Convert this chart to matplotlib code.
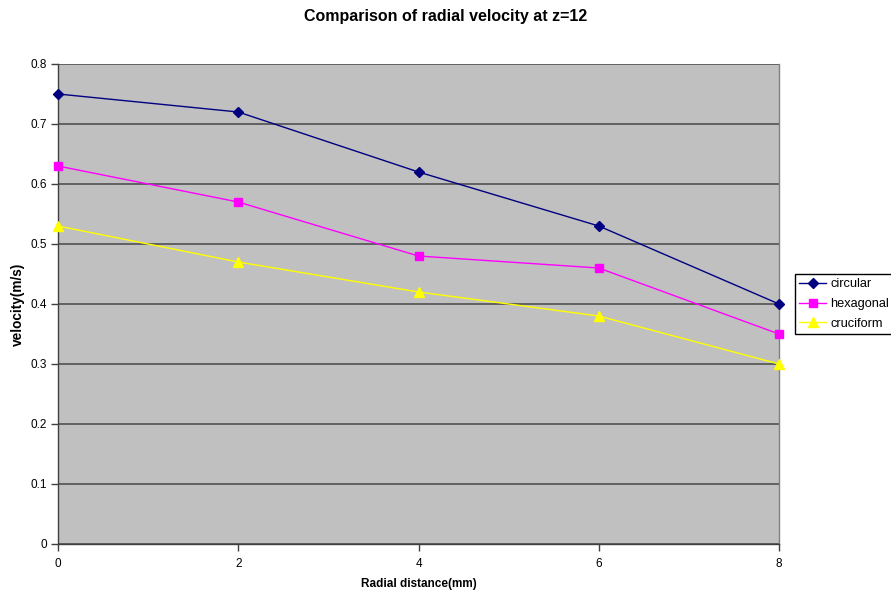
import matplotlib
matplotlib.use("Agg")
import matplotlib.pyplot as plt

plt.rcParams['font.family'] = ['Liberation Sans', 'DejaVu Sans']

radial_mm = [0, 2, 4, 6, 8]
circular = [0.75, 0.72, 0.62, 0.53, 0.40]
hexagonal = [0.63, 0.57, 0.48, 0.46, 0.35]
cruciform = [0.53, 0.47, 0.42, 0.38, 0.30]
y_ticks = [0, 0.1, 0.2, 0.3, 0.4, 0.5, 0.6, 0.7, 0.8]

fig = plt.figure(figsize=(8.91, 5.98), dpi=100)
ax = fig.add_axes([58/891, 54/598, (779-58)/891, (544-64)/598])
ax.set_facecolor('#C0C0C0')

ax.plot(radial_mm, circular, color='#000080', marker='D', markersize=5, lw=1, label='circular', clip_on=False, zorder=3)
ax.plot(radial_mm, hexagonal, color='#FF00FF', marker='s', markersize=6, lw=1, label='hexagonal', clip_on=False, zorder=3)
ax.plot(radial_mm, cruciform, color='#FFFF00', marker='^', markersize=7, lw=1, label='cruciform', clip_on=False, zorder=3)

ax.set_xlim(0, 8)
ax.set_ylim(0, 0.8)
ax.set_xticks(radial_mm)
ax.set_yticks(y_ticks)
ax.set_yticklabels(['0', '0.1', '0.2', '0.3', '0.4', '0.5', '0.6', '0.7', '0.8'])
ax.yaxis.grid(True, color='#5a5a5a', lw=1.3)
ax.set_axisbelow(True)

ax.spines['top'].set_visible(False)
ax.spines['right'].set_color('#808080')
ax.spines['right'].set_linewidth(1.0)
for s in ['left', 'bottom']:
    ax.spines[s].set_color('#404040')
    ax.spines[s].set_linewidth(1.0)

ax.tick_params(axis='both', labelsize=8.5, length=5, width=1, color='#404040', pad=3)
ax.tick_params(axis='x', pad=5)

ax.set_xlabel('Radial distance(mm)', fontsize=8.5, fontweight='bold', labelpad=6)
ax.set_ylabel('velocity(m/s)', fontsize=9.8, fontweight='bold', labelpad=4)
fig.text(446/891, 1 - 16/598, 'Comparison of radial velocity at z=12', ha='center', va='center',
         fontsize=11.5, fontweight='bold')

leg = fig.legend(loc='upper left', bbox_to_anchor=(795/891, 1 - 274/598), fontsize=9.2,
                 frameon=True, fancybox=False, edgecolor='black', framealpha=1,
                 handlelength=2.1, handletextpad=0.3, borderpad=0.35, labelspacing=0.6,
                 borderaxespad=0)
leg.get_frame().set_linewidth(1.0)

fig.savefig('out.png', dpi=100)
